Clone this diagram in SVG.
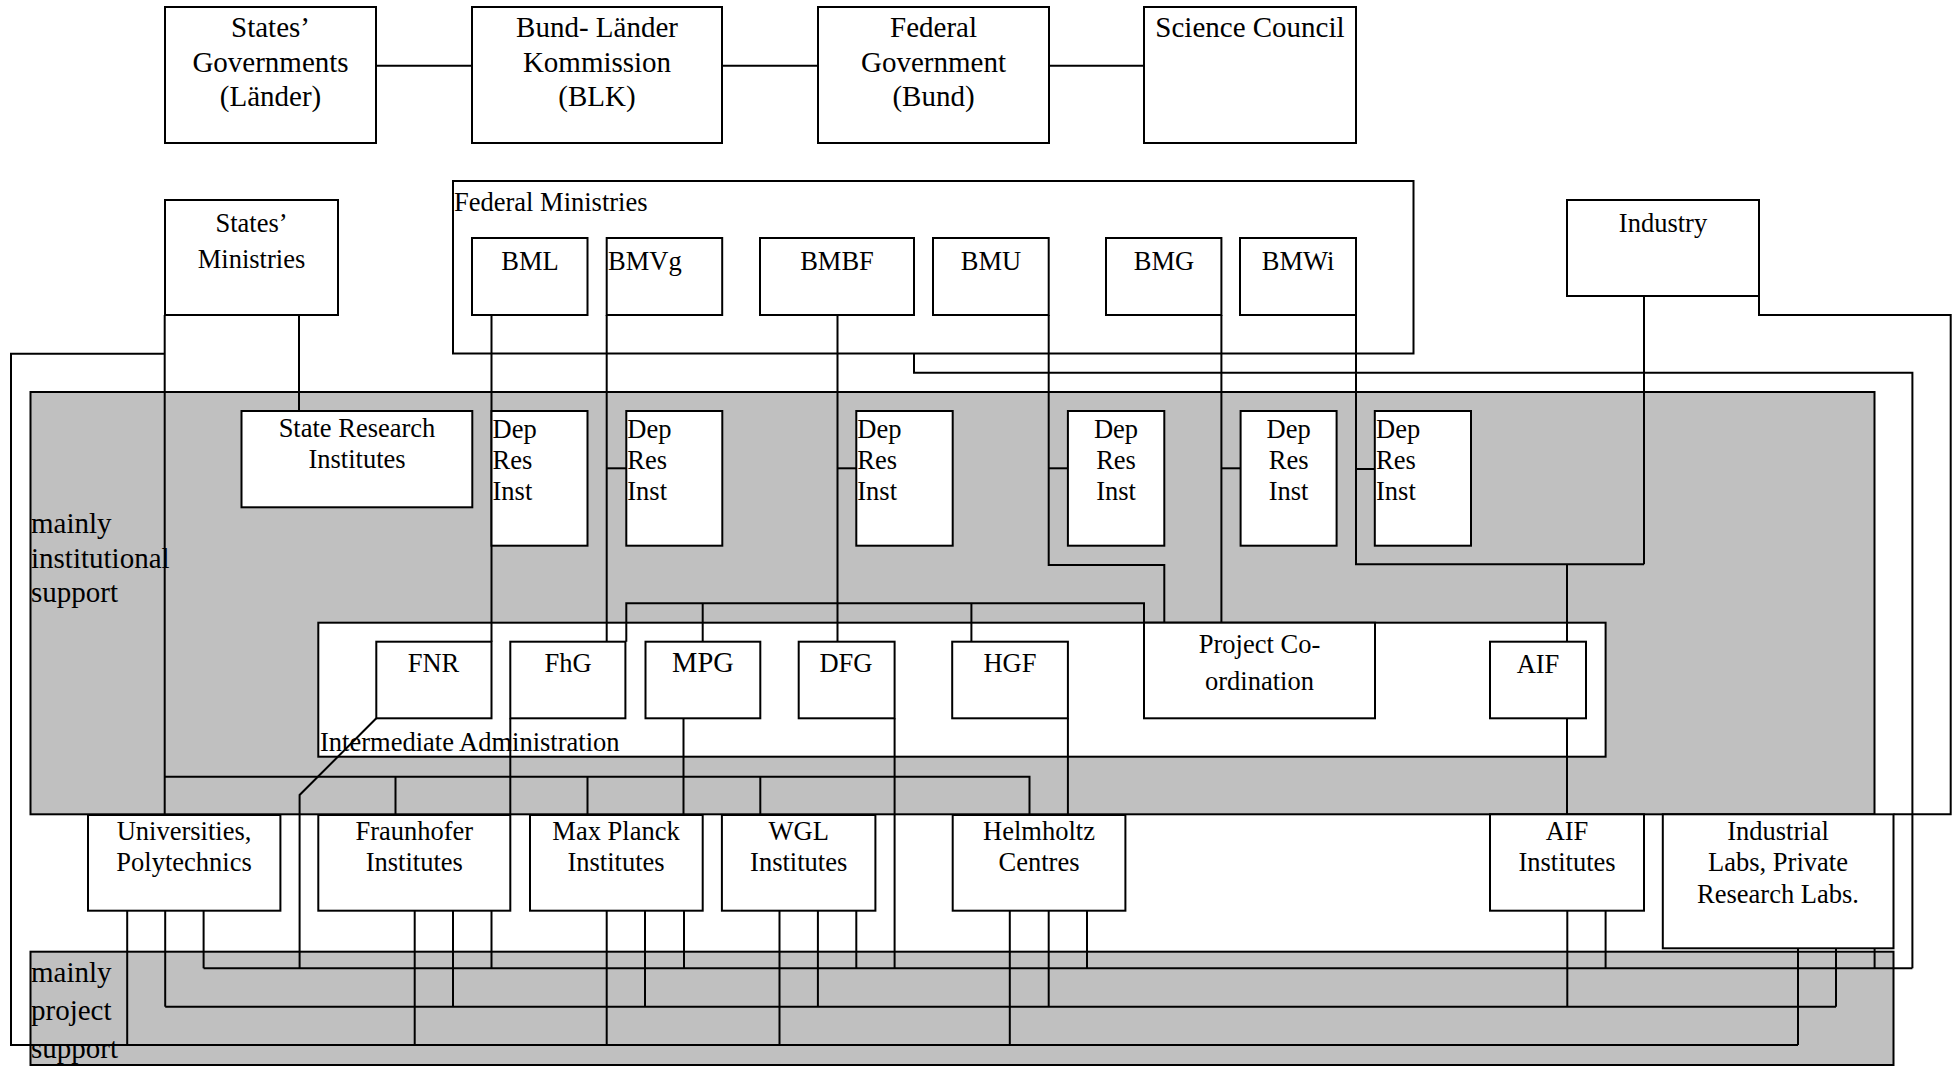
<svg xmlns="http://www.w3.org/2000/svg" width="1959" height="1066" viewBox="0 0 1959 1066">
<style>
.bg{fill:#fff}
.box{fill:#fff;stroke:#000;stroke-width:2}
.frame{fill:none;stroke:#000;stroke-width:2}
.shade{fill:#c0c0c0;stroke:#000;stroke-width:2}
.con{fill:none;stroke:#000;stroke-width:2}
text{font-family:"Liberation Serif","Times New Roman",serif;font-size:26.5px;fill:#000}
.c{text-anchor:middle}
.big{font-size:29px}
</style>
<rect class="bg" x="0" y="0" width="1959" height="1066"/>

<g id="region-institutional">
<rect class="shade" x="30.5" y="392" width="1844" height="422.3"/>
<text class="big" x="31" y="533">mainly</text>
<text class="big" x="31" y="567.5">institutional</text>
<text class="big" x="31" y="602">support</text>
</g>
<g id="region-project">
<rect class="shade" x="30.5" y="951.7" width="1863" height="113.3"/>
<text class="big" x="31" y="982">mainly</text>
<text class="big" x="31" y="1020">project</text>
<text class="big" x="31" y="1058">support</text>
</g>

<g id="federal-ministries">
<rect class="frame" x="453" y="181" width="960.5" height="172.5"/>
<text x="454" y="210.7">Federal Ministries</text>
</g>
<g id="intermediate-administration">
<rect class="box" x="318.3" y="622.7" width="1287.3" height="134"/>
<text x="320" y="751">Intermediate Administration</text>
</g>

<g id="connectors">
<polyline class="con" points="376,65.7 472,65.7"/>
<polyline class="con" points="722,65.7 818,65.7"/>
<polyline class="con" points="1049,65.7 1144,65.7"/>
<polyline class="con" points="299,315 299,411"/>
<polyline class="con" points="164.7,315 164.7,815"/>
<polyline class="con" points="164.7,353.7 11,353.7 11,1045 1798,1045"/>
<polyline class="con" points="165.2,1006.7 1836,1006.7"/>
<polyline class="con" points="203.6,968.3 1912.4,968.3"/>
<polyline class="con" points="491.5,315 491.5,641.7"/>
<polyline class="con" points="606.7,315 606.7,641.7"/>
<polyline class="con" points="606.7,468.3 626.3,468.3"/>
<polyline class="con" points="837.5,315 837.5,641.7"/>
<polyline class="con" points="837.5,468.3 856.3,468.3"/>
<polyline class="con" points="1048.7,315 1048.7,565 1164.3,565 1164.3,622.7"/>
<polyline class="con" points="1048.7,468.3 1067.9,468.3"/>
<polyline class="con" points="1221.4,315 1221.4,622.7"/>
<polyline class="con" points="1221.4,468.3 1240.6,468.3"/>
<polyline class="con" points="1356,315 1356,564.3 1644,564.3"/>
<polyline class="con" points="1356,469 1374.8,469"/>
<polyline class="con" points="1644,296 1644,564.3"/>
<polyline class="con" points="1567,564.3 1567,641.7"/>
<polyline class="con" points="1759,296 1759,315 1950.7,315 1950.7,814.3 1893.5,814.3"/>
<polyline class="con" points="914,353.5 914,372.7 1912.4,372.7 1912.4,968.3"/>
<polyline class="con" points="376.3,718.3 299.6,795 299.6,968.3"/>
<polyline class="con" points="510.3,718.3 510.3,815"/>
<polyline class="con" points="683.5,718.3 683.5,815"/>
<polyline class="con" points="894.6,718.3 894.6,968.3"/>
<polyline class="con" points="1067.9,718.3 1067.9,815"/>
<polyline class="con" points="626.3,641.7 626.3,603.3 1144,603.3 1144,622.7"/>
<polyline class="con" points="702.7,603.3 702.7,641.7"/>
<polyline class="con" points="971.4,603.3 971.4,641.7"/>
<polyline class="con" points="164.7,776.7 1029.5,776.7 1029.5,815"/>
<polyline class="con" points="395.5,776.7 395.5,815"/>
<polyline class="con" points="587.5,776.7 587.5,815"/>
<polyline class="con" points="760.3,776.7 760.3,815"/>
<polyline class="con" points="1567,718.3 1567,814.3"/>
<polyline class="con" points="127.2,910.7 127.2,1045"/>
<polyline class="con" points="165.2,910.7 165.2,1006.7"/>
<polyline class="con" points="203.6,910.7 203.6,968.3"/>
<polyline class="con" points="414.7,910.7 414.7,1045"/>
<polyline class="con" points="453,910.7 453,1006.7"/>
<polyline class="con" points="491.5,910.7 491.5,968.3"/>
<polyline class="con" points="606.7,910.7 606.7,1045"/>
<polyline class="con" points="645,910.7 645,1006.7"/>
<polyline class="con" points="684,910.7 684,968.3"/>
<polyline class="con" points="779.5,910.7 779.5,1045"/>
<polyline class="con" points="817.9,910.7 817.9,1006.7"/>
<polyline class="con" points="856.3,910.7 856.3,968.3"/>
<polyline class="con" points="1009.8,910.7 1009.8,1045"/>
<polyline class="con" points="1048.7,910.7 1048.7,1006.7"/>
<polyline class="con" points="1087,910.7 1087,968.3"/>
<polyline class="con" points="1567.3,910.7 1567.3,1006.7"/>
<polyline class="con" points="1605.6,910.7 1605.6,968.3"/>
<polyline class="con" points="1798,948.3 1798,1045"/>
<polyline class="con" points="1836,948.3 1836,1006.7"/>
<polyline class="con" points="1874.6,948.3 1874.6,968.3"/>
</g>

<g id="states-governments"><rect class="box" x="165" y="7" width="211" height="136"/>
<text class="big c" x="270.5" y="36.5">States’</text><text class="big c" x="270.5" y="71.5">Governments</text><text class="big c" x="270.5" y="106">(Länder)</text></g>
<g id="blk"><rect class="box" x="472" y="7" width="250" height="136"/>
<text class="big c" x="597" y="36.5">Bund- Länder</text><text class="big c" x="597" y="71.5">Kommission</text><text class="big c" x="597" y="106">(BLK)</text></g>
<g id="federal-government"><rect class="box" x="818" y="7" width="231" height="136"/>
<text class="big c" x="933.5" y="36.5">Federal</text><text class="big c" x="933.5" y="71.5">Government</text><text class="big c" x="933.5" y="106">(Bund)</text></g>
<g id="science-council"><rect class="box" x="1144" y="7" width="212" height="136"/>
<text class="big c" x="1250" y="36.5">Science Council</text></g>

<g id="states-ministries"><rect class="box" x="165" y="200" width="173" height="115"/>
<text class="c" x="251.5" y="231.5">States’</text><text class="c" x="251.5" y="268">Ministries</text></g>
<g id="bml"><rect class="box" x="472" y="238" width="115.5" height="77"/><text class="c" x="530" y="270">BML</text></g>
<g id="bmvg"><rect class="box" x="606.7" y="238" width="115.5" height="77"/><text x="608" y="270">BMVg</text></g>
<g id="bmbf"><rect class="box" x="760" y="238" width="154" height="77"/><text class="c" x="837" y="270">BMBF</text></g>
<g id="bmu"><rect class="box" x="933" y="238" width="115.7" height="77"/><text class="c" x="991" y="270">BMU</text></g>
<g id="bmg"><rect class="box" x="1106" y="238" width="115.4" height="77"/><text class="c" x="1164" y="270">BMG</text></g>
<g id="bmwi"><rect class="box" x="1240" y="238" width="116" height="77"/><text class="c" x="1298" y="270">BMWi</text></g>
<g id="industry"><rect class="box" x="1567" y="200" width="192" height="96"/><text class="c" x="1663" y="232">Industry</text></g>

<g id="state-research-institutes"><rect class="box" x="241.5" y="411" width="230.8" height="96.3"/>
<text class="c" x="357" y="437.3">State Research</text><text class="c" x="357" y="468.3">Institutes</text></g>
<g id="dep1"><rect class="box" x="491.5" y="411" width="96" height="134.7"/>
<text x="492.5" y="438">Dep</text><text x="492.5" y="468.5">Res</text><text x="492.5" y="500">Inst</text></g>
<g id="dep2"><rect class="box" x="626.3" y="411" width="96" height="134.7"/>
<text x="627.3" y="438">Dep</text><text x="627.3" y="468.5">Res</text><text x="627.3" y="500">Inst</text></g>
<g id="dep3"><rect class="box" x="856.3" y="411" width="96.4" height="134.7"/>
<text x="857.3" y="438">Dep</text><text x="857.3" y="468.5">Res</text><text x="857.3" y="500">Inst</text></g>
<g id="dep4"><rect class="box" x="1067.9" y="411" width="96.4" height="134.7"/>
<text class="c" x="1116" y="438">Dep</text><text class="c" x="1116" y="468.5">Res</text><text class="c" x="1116" y="500">Inst</text></g>
<g id="dep5"><rect class="box" x="1240.6" y="411" width="96" height="134.7"/>
<text class="c" x="1288.6" y="438">Dep</text><text class="c" x="1288.6" y="468.5">Res</text><text class="c" x="1288.6" y="500">Inst</text></g>
<g id="dep6"><rect class="box" x="1374.8" y="411" width="96.2" height="134.7"/>
<text x="1376" y="438">Dep</text><text x="1376" y="468.5">Res</text><text x="1376" y="500">Inst</text></g>

<g id="fnr"><rect class="box" x="376.3" y="641.7" width="115.2" height="76.6"/><text class="c" x="433.5" y="671.7">FNR</text></g>
<g id="fhg"><rect class="box" x="510.3" y="641.7" width="115.1" height="76.6"/><text class="c" x="568" y="671.7">FhG</text></g>
<g id="mpg"><rect class="box" x="645.5" y="641.7" width="114.8" height="76.6"/><text class="c" x="703" y="671.7" style="font-size:28.5px">MPG</text></g>
<g id="dfg"><rect class="box" x="798.7" y="641.7" width="95.9" height="76.6"/><text class="c" x="846" y="671.7">DFG</text></g>
<g id="hgf"><rect class="box" x="952.2" y="641.7" width="115.7" height="76.6"/><text class="c" x="1010" y="671.7">HGF</text></g>
<g id="project-coordination"><rect class="box" x="1144" y="622.7" width="231" height="95.6"/>
<text class="c" x="1259.5" y="653.3">Project Co-</text><text class="c" x="1259.5" y="690">ordination</text></g>
<g id="aif"><rect class="box" x="1490" y="641.7" width="96" height="76.6"/><text class="c" x="1538" y="672.7">AIF</text></g>

<g id="universities"><rect class="box" x="88" y="815" width="192.4" height="95.7"/>
<text class="c" x="184" y="840">Universities,</text><text class="c" x="184" y="871">Polytechnics</text></g>
<g id="fraunhofer"><rect class="box" x="318.3" y="815" width="192" height="95.7"/>
<text class="c" x="414.3" y="840">Fraunhofer</text><text class="c" x="414.3" y="871">Institutes</text></g>
<g id="max-planck"><rect class="box" x="530" y="815" width="172.7" height="95.7"/>
<text class="c" x="616" y="840">Max Planck</text><text class="c" x="616" y="871">Institutes</text></g>
<g id="wgl"><rect class="box" x="721.9" y="815" width="153.5" height="95.7"/>
<text class="c" x="798.7" y="840">WGL</text><text class="c" x="798.7" y="871">Institutes</text></g>
<g id="helmholtz"><rect class="box" x="952.7" y="815" width="172.7" height="95.7"/>
<text class="c" x="1039" y="840">Helmholtz</text><text class="c" x="1039" y="871">Centres</text></g>
<g id="aif-institutes"><rect class="box" x="1490" y="814.3" width="154" height="96.4"/>
<text class="c" x="1567" y="840">AIF</text><text class="c" x="1567" y="871">Institutes</text></g>
<g id="industrial-labs"><rect class="box" x="1662.8" y="814.3" width="230.7" height="134"/>
<text class="c" x="1778" y="840">Industrial</text><text class="c" x="1778" y="871">Labs, Private</text><text class="c" x="1778" y="903">Research Labs.</text></g>
</svg>
